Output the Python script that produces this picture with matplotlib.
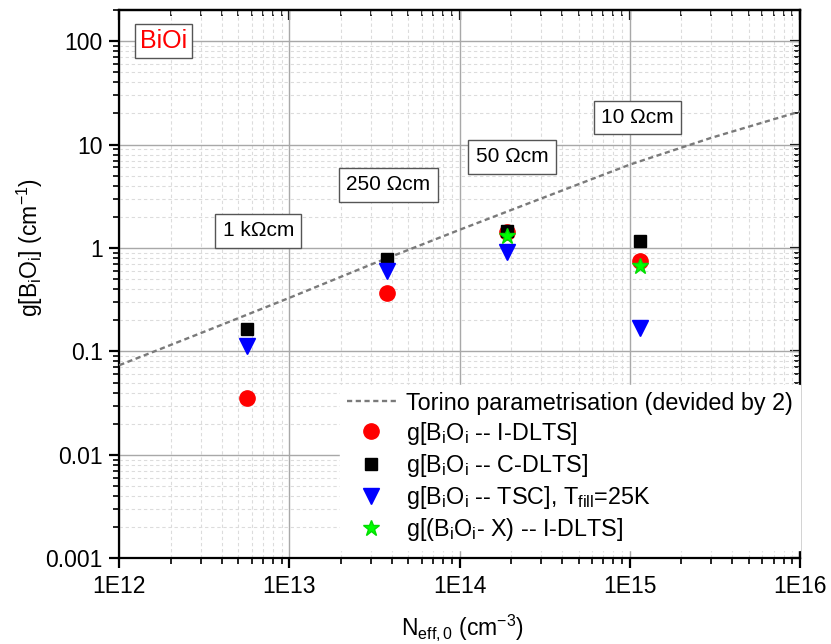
import matplotlib
matplotlib.use("Agg")
import matplotlib.pyplot as plt
from matplotlib.ticker import FixedLocator, FixedFormatter, LogLocator, NullFormatter

plt.rcParams['font.family'] = ['Liberation Sans', 'DejaVu Sans']
plt.rcParams['mathtext.fontset'] = 'custom'
plt.rcParams['mathtext.rm'] = 'Liberation Sans'
plt.rcParams['mathtext.it'] = 'Liberation Sans:italic'
plt.rcParams['mathtext.bf'] = 'Liberation Sans:bold'

# Effective doping concentration of the samples (cm^-3)
neff = [5.61e12, 3.73e13, 1.91e14, 1.146e15]
# Introduction rates g (cm^-1) from each technique
g_idlts = [0.0356, 0.367, 1.43, 0.75]
g_cdlts = [0.163, 0.79, 1.45, 1.17]
g_tsc = [0.112, 0.596, 0.91, 0.169]
neff_x = [1.91e14, 1.146e15]
g_x_idlts = [1.31, 0.665]

# Torino parametrisation (divided by 2)
torino_n = [1e12, 3e12, 1e13, 3e13, 1e14, 3e14, 1e15, 3e15, 1e16]
torino_g = [0.0736, 0.150, 0.33, 0.69, 1.50, 3.0, 6.4, 11.6, 20.9]

x_ticks = [1e12, 1e13, 1e14, 1e15, 1e16]
x_tick_labels = ['1E12', '1E13', '1E14', '1E15', '1E16']
y_ticks = [1e-3, 1e-2, 1e-1, 1, 10, 100]
y_tick_labels = ['0.001', '0.01', '0.1', '1', '10', '100']

resistivity_labels = ['1 k\u03a9cm', '250 \u03a9cm', '50 \u03a9cm', '10 \u03a9cm']
resistivity_pos = [(0.204, 0.597), (0.395, 0.681), (0.577, 0.732), (0.761, 0.804)]

fig = plt.figure(figsize=(8.31, 6.44), dpi=100)
ax = fig.add_axes([0.1436, 0.1331, 0.8191, 0.8514])
ax.set_xscale('log')
ax.set_yscale('log')
ax.set_xlim(1e12, 1e16)
ax.set_ylim(1e-3, 200)

ax.grid(which='major', color='#a8a8a8', lw=1.0, ls='-')
ax.grid(which='minor', color='#dcdcdc', lw=0.8, ls=(0, (3, 2.5)))
ax.set_axisbelow(True)

ax.plot(torino_n, torino_g, ls=(0, (2.2, 1.5)), color='#7a7a7a', lw=1.7,
        label='Torino parametrisation (devided by 2)', zorder=3)
ax.plot(neff, g_idlts, 'o', color='#ff0000', ms=11, mec='#ff0000', ls='none',
        label=r'g[B$_\mathregular{i}$O$_\mathregular{i}$ -- I-DLTS]', zorder=4)
ax.plot(neff, g_cdlts, 's', color='black', ms=8, ls='none',
        label=r'g[B$_\mathregular{i}$O$_\mathregular{i}$ -- C-DLTS]', zorder=5)
ax.plot(neff, g_tsc, 'v', color='#0000ff', ms=11, ls='none',
        label=r'g[B$_\mathregular{i}$O$_\mathregular{i}$ -- TSC], T$_\mathregular{fill}$=25K', zorder=6)
ax.plot(neff_x, g_x_idlts, '*', color='#00ff00', ms=12, mec='#00dd00', ls='none',
        label=r'g[(B$_\mathregular{i}$O$_\mathregular{i}$- X) -- I-DLTS]', zorder=7)

ax.xaxis.set_major_locator(FixedLocator(x_ticks))
ax.xaxis.set_major_formatter(FixedFormatter(x_tick_labels))
ax.yaxis.set_major_locator(FixedLocator(y_ticks))
ax.yaxis.set_major_formatter(FixedFormatter(y_tick_labels))
for a in (ax.xaxis, ax.yaxis):
    a.set_minor_locator(LogLocator(base=10, subs=range(2, 10), numticks=20))
    a.set_minor_formatter(NullFormatter())

ax.tick_params(which='major', direction='out', length=7, width=1.6, labelsize=16.5, pad=5)
ax.tick_params(which='minor', direction='out', length=4, width=1.2)
for s in ax.spines.values():
    s.set_linewidth(1.6)

# mirrored inward ticks on the top and right
for loc in ('top', 'right'):
    sec = ax.secondary_xaxis('top') if loc == 'top' else ax.secondary_yaxis('right')
    axis = sec.xaxis if loc == 'top' else sec.yaxis
    axis.set_major_locator(FixedLocator(x_ticks if loc == 'top' else y_ticks))
    axis.set_minor_locator(LogLocator(base=10, subs=range(2, 10), numticks=20))
    axis.set_major_formatter(NullFormatter())
    axis.set_minor_formatter(NullFormatter())
    sec.tick_params(which='major', direction='in', length=7, width=1.6)
    sec.tick_params(which='minor', direction='in', length=4, width=1.2)
    for s in sec.spines.values():
        s.set_linewidth(1.6)

ax.set_xlabel(r'N$_\mathregular{eff,0}$ (cm$^\mathregular{-3}$)', fontsize=16.5)
ax.xaxis.set_label_coords(0.504, -0.098)
ax.set_ylabel(r'g[B$_\mathregular{i}$O$_\mathregular{i}$] (cm$^\mathregular{-1}$)', fontsize=16.5, va='center')
ax.yaxis.set_label_coords(-0.131, 0.566)

ax.text(0.065, 0.944, 'BiOi', transform=ax.transAxes, ha='center', va='center',
        fontsize=18, color='#ff0000', zorder=10,
        bbox=dict(boxstyle='square,pad=0.2', fc='white', ec='#555555', lw=1.0))
for lab, (tx, ty) in zip(resistivity_labels, resistivity_pos):
    ax.text(tx, ty, lab, transform=ax.transAxes, ha='center', va='center',
            fontsize=15, color='black', zorder=10,
            bbox=dict(boxstyle='square,pad=0.35', fc='white', ec='#555555', lw=1.0))

leg = ax.legend(loc='lower right', bbox_to_anchor=(1.0, 0.015), borderaxespad=0,
                fontsize=16.8, frameon=True, fancybox=False, framealpha=1,
                facecolor='white', edgecolor='white', handlelength=2.1,
                handletextpad=0.45, labelspacing=0.22, borderpad=0.3, numpoints=1)
leg.set_zorder(20)

fig.savefig('out.png', dpi=100)
